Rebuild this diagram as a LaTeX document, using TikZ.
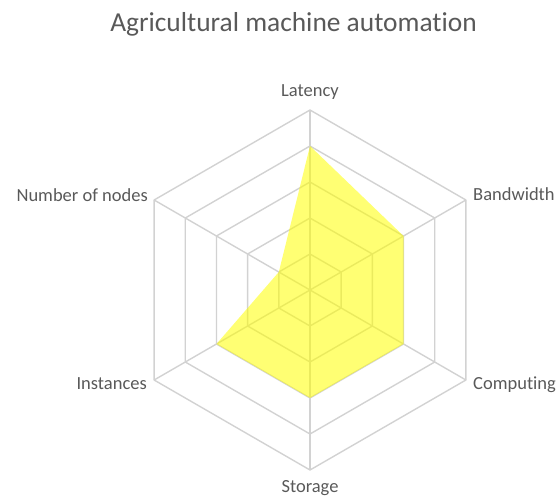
\documentclass[tikz,border=0pt]{standalone}
\usepackage{fontspec}
\setmainfont[Ligatures=NoCommon]{Carlito}
\definecolor{txtgray}{RGB}{89,89,89}
\definecolor{gridgray}{RGB}{210,210,210}
\definecolor{areayellow}{RGB}{255,255,0}

\begin{document}
\begin{tikzpicture}[x=1pt,y=1pt,
    axislabel/.style={text=txtgray,font=\fontsize{18.5}{20}\selectfont,inner sep=0pt},
    gridline/.style={draw=gridgray,line width=1.4pt,line join=round}]
    \useasboundingbox (0,0) rectangle (559,-501);

    \node[text=txtgray,font=\fontsize{27.4}{30}\selectfont,inner sep=0pt,anchor=base](title)at(293.5,-31.7){Agricultural machine automation};

    \begin{scope}[shift={(310,-290)}]
        % rings and spokes
        \foreach \r in {36,72,...,180}
            \draw[gridline](90:\r)--(30:\r)--(-30:\r)--(-90:\r)--(-150:\r)--(150:\r)--cycle;
        \foreach \a in {90,30,...,-210}
            \draw[gridline](0,0)--(\a:180);

        % values 4,3,3,3,3,1
        \fill[areayellow,opacity=0.55](90:144)--(30:108)--(-30:108)--(-90:108)--(-150:108)--(150:36)--cycle;
    \end{scope}

    \node[axislabel,anchor=base](latency)at(310,-96){Latency};
    \node[axislabel,anchor=base west](bandwidth)at(473,-200){Bandwidth};
    \node[axislabel,anchor=base west](computing)at(473,-389){Computing};
    \node[axislabel,anchor=base](storage)at(310,-492){Storage};
    \node[axislabel,anchor=base east](instances)at(147,-389){Instances};
    \node[axislabel,anchor=base east](nodes)at(148,-201.5){Number of nodes};
\end{tikzpicture}
\end{document}
